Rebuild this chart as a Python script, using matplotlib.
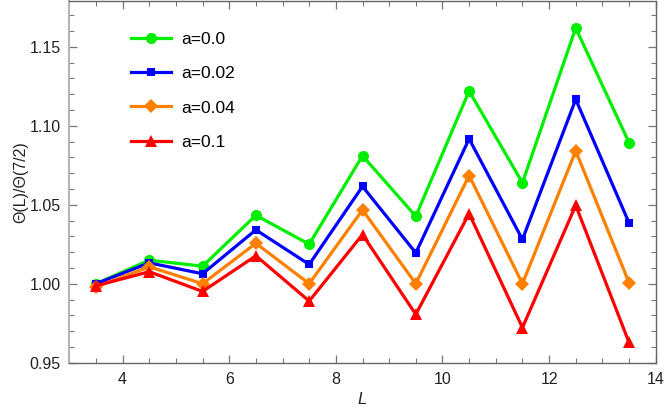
import matplotlib
matplotlib.use("Agg")
import matplotlib.pyplot as plt
from matplotlib.ticker import MultipleLocator, FormatStrFormatter

L = [3.5, 4.5, 5.5, 6.5, 7.5, 8.5, 9.5, 10.5, 11.5, 12.5, 13.5]
a00 = [1.000, 1.0149, 1.0111, 1.0433, 1.0250, 1.0810, 1.0427, 1.1220, 1.0639, 1.1619, 1.0893]
a002 = [1.000, 1.0132, 1.0063, 1.0341, 1.0122, 1.0616, 1.0195, 1.0917, 1.0280, 1.1167, 1.0385]
a004 = [0.998, 1.0107, 1.0000, 1.0256, 1.0000, 1.0467, 1.0000, 1.0685, 1.0000, 1.0841, 1.0006]
a01 = [0.9987, 1.0076, 0.9951, 1.0177, 0.9890, 1.0311, 0.9806, 1.0444, 0.9722, 1.0496, 0.9628]

labels = ["a=0.0", "a=0.02", "a=0.04", "a=0.1"]
colors = ["#00ee00", "#0000ff", "#ff8000", "#ff0000"]
markers = ["o", "s", "D", "^"]
msizes = [8, 5.5, 7, 8]

plt.rcParams['font.family'] = ['Liberation Sans', 'DejaVu Sans']

fig = plt.figure(figsize=(6.64, 4.11), dpi=100)
ax = fig.add_axes([69.3/664, 1 - 362.7/411, (655.7-69.3)/664, (362.7-0.8)/411])

for ys, lab, c, m, ms in zip([a00, a002, a004, a01], labels, colors, markers, msizes):
    ax.plot(L, ys, color=c, marker=m, markersize=ms, linewidth=2.3, label=lab,
            markeredgewidth=0)

ax.set_xlim(3, 14)
ax.set_ylim(0.95, 1.1791)
ax.xaxis.set_major_locator(MultipleLocator(2))
ax.xaxis.set_minor_locator(MultipleLocator(0.5))
ax.yaxis.set_major_locator(MultipleLocator(0.05))
ax.yaxis.set_minor_locator(MultipleLocator(0.01))
ax.yaxis.set_major_formatter(FormatStrFormatter('%.2f'))

ax.tick_params(which='both', direction='in', top=True, right=True, colors='#777777',
               labelcolor='#222222', labelsize=11.5)
ax.tick_params(which='major', length=6, width=0.9)
ax.tick_params(which='minor', length=3.5, width=0.8)
ax.tick_params(axis='x', which='major', pad=7)
ax.tick_params(axis='y', which='major', pad=6)

for s in ['bottom', 'right', 'top']:
    ax.spines[s].set_color('#666666')
    ax.spines[s].set_linewidth(1.0)
ax.spines['left'].set_color('#b5b5b5')
ax.spines['left'].set_linewidth(1.5)

ax.set_xlabel("L", fontsize=12, style='italic', color='#222222', labelpad=3)
ax.set_ylabel("Θ(L)/Θ(7/2)", fontsize=11.5, color='#222222', labelpad=1)

leg = ax.legend(loc='upper left', bbox_to_anchor=(0.105, 0.915), frameon=False,
                fontsize=12.5, handlelength=2.3, handletextpad=0.6,
                labelspacing=1.11, borderpad=0, borderaxespad=0)

fig.savefig("out.png", dpi=100)
